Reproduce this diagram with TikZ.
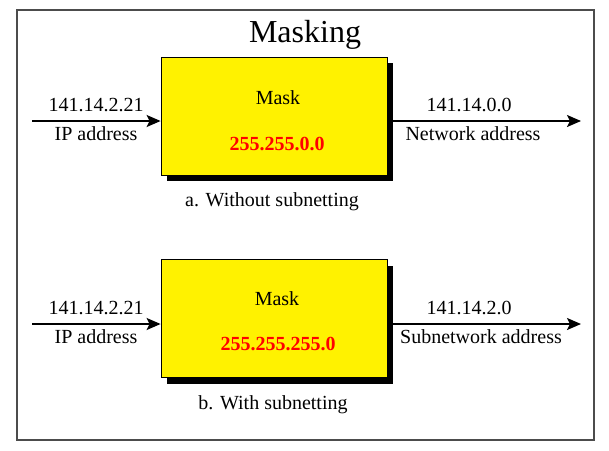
\documentclass[tikz,border=0pt]{standalone}
\usepackage{fontspec}
\setmainfont{Liberation Serif}
\usetikzlibrary{arrows.meta,shadows}
\begin{document}
\begin{tikzpicture}[x=1pt,y=-1pt,
  lbl/.style={font=\fontsize{20}{24}\selectfont, anchor=base, inner sep=0pt},
  masknum/.style={lbl, font=\fontsize{20}{24}\selectfont\bfseries, text=red},
  title/.style={font=\fontsize{32}{38}\selectfont, anchor=base, inner sep=0pt},
  maskbox/.style={draw=black, line width=0.8pt, fill=yellow, minimum width=226pt, minimum height=118pt, inner sep=0pt,
    drop shadow={shadow xshift=6pt, shadow yshift=-6pt, opacity=1, fill=black}},
  flow/.style={draw=black, line width=1.8pt, -{Stealth[length=14pt,width=12pt,inset=3pt]}},
  framebox/.style={draw=black!70, line width=1.4pt}]
\useasboundingbox (0,0) rectangle (609,450);
\draw[framebox] (17,10) rectangle (594,440);
\node[title] (ttl) at (305,42) {Masking};
% ---- a. Without subnetting
\node[maskbox] (boxa) at (274,116) {};
\node[lbl] (maska) at (278,104) {Mask};
\node[masknum] (numa) at (277,150) {255.255.0.0};
\coordinate (ina) at (32,121);
\coordinate (outa) at (581,121);
\draw[flow] (ina) -- (ina -| boxa.west);
\draw[flow] (outa -| boxa.east) -- (outa);
\node[lbl] (ipa) at (96,111) {141.14.2.21};
\node[lbl] (ipla) at (96,140) {IP address};
\node[lbl] (neta) at (469,111) {141.14.0.0};
\node[lbl] (netla) at (473,140) {Network address};
\node[lbl] (capa) at (272,206) {a. Without subnetting};
% ---- b. With subnetting
\node[maskbox] (boxb) at (274,318.5) {};
\node[lbl] (maskb) at (277,305) {Mask};
\node[masknum] (numb) at (278,350) {255.255.255.0};
\coordinate (inb) at (32,324);
\coordinate (outb) at (581,324);
\draw[flow] (inb) -- (inb -| boxb.west);
\draw[flow] (outb -| boxb.east) -- (outb);
\node[lbl] (ipb) at (96,314) {141.14.2.21};
\node[lbl] (iplb) at (96,343) {IP address};
\node[lbl] (netb) at (469,314) {141.14.2.0};
\node[lbl] (netlb) at (481,343) {Subnetwork address};
\node[lbl] (capb) at (273,409) {b. With subnetting};
\end{tikzpicture}
\end{document}
